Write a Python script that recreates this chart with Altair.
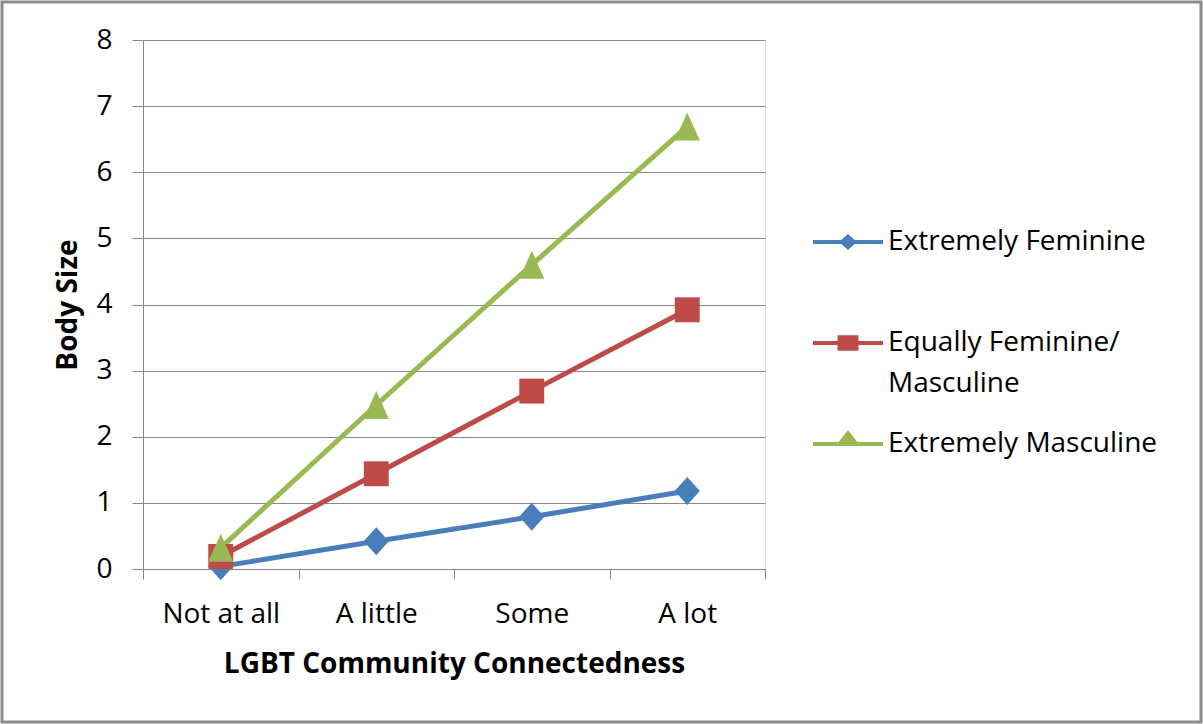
import json
import altair as alt
import pandas as pd

categories = ["Not at all", "A little", "Some", "A lot"]
series = ["Extremely Feminine", "Equally Feminine/Masculine", "Extremely Masculine"]
extremely_feminine = [0.04, 0.42, 0.79, 1.18]
equally_fem_masc = [0.19, 1.44, 2.69, 3.92]
extremely_masculine = [0.32, 2.48, 4.60, 6.69]
colors = ["#4A7EBB", "#BE4B48", "#98B954"]
y_ticks = [0, 1, 2, 3, 4, 5, 6, 7, 8]
x_ticks = [0, 0.5, 1, 1.5, 2, 2.5, 3, 3.5, 4]

rows = []
for s, vals in zip(series, [extremely_feminine, equally_fem_masc, extremely_masculine]):
    for c, v in zip(categories, vals):
        rows.append({"series": s, "category": c, "value": v})
df = pd.DataFrame(rows)

FONT = "Open Sans"
GRID = "#868686"

# marker shapes (unit box -1..1)
diamond = "M0,-1L0.9,0L0,1L-0.9,0Z"
square = "M-0.89,-0.89L0.89,-0.89L0.89,0.89L-0.89,0.89Z"
triangle = "M0,-1L0.9,1L-0.9,1Z"

# legend shapes: line + marker (the bare moves only widen the entry's layout box)
pad_moves = "M0,-1.65M0,1.65"
leg_diamond = ("M-1,-0.06L-0.192,-0.06L0,-0.23L0.192,-0.06L1,-0.06L1,0.06"
               "L0.192,0.06L0,0.23L-0.192,0.06L-1,0.06Z" + pad_moves)
leg_square = ("M-1,-0.06L-0.3,-0.06L-0.3,-0.22L0.3,-0.22L0.3,-0.06L1,-0.06L1,0.06"
              "L0.3,0.06L0.3,0.22L-0.3,0.22L-0.3,0.06L-1,0.06Z" + pad_moves)
leg_triangle = "M-1,-0.06L-0.266,-0.06L0,-0.4L0.266,-0.06L1,-0.06L1,0.06L-1,0.06Z" + pad_moves

cats_js = json.dumps(categories)

base = alt.Chart(df).transform_calculate(
    xpos=f"indexof({cats_js}, datum.category) + 0.5"
)

x_enc = alt.X(
    "xpos:Q",
    scale=alt.Scale(domain=[0, 4], nice=False, zero=False),
    axis=alt.Axis(
        values=x_ticks,
        labelExpr=f"datum.value % 1 == 0 ? '' : {cats_js}[floor(datum.value)]",
        tickOpacity={"condition": {"test": "datum.value % 1 === 0", "value": 1}, "value": 0},
        grid=False,
        domainColor=GRID,
        tickColor=GRID,
        tickSize=10,
        labelFont=FONT,
        labelFontSize=28,
        labelColor="black",
        labelPadding=21,
        labelBaseline="top",
        title="LGBT Community Connectedness",
        titleFont=FONT,
        titleFontSize=28,
        titleFontWeight="bold",
        titleColor="black",
        titlePadding=22,
    ),
)
y_enc = alt.Y(
    "value:Q",
    scale=alt.Scale(domain=[0, 8], nice=False),
    axis=alt.Axis(
        values=y_ticks,
        grid=True,
        gridColor=GRID,
        domainColor=GRID,
        tickColor=GRID,
        tickSize=11,
        labelFont=FONT,
        labelFontSize=28,
        labelColor="black",
        labelPadding=20,
        title="Body Size",
        titleFont=FONT,
        titleFontSize=28,
        titleFontWeight="bold",
        titleColor="black",
        titlePadding=13,
    ),
)

color_scale = alt.Scale(domain=series, range=colors)

lines = base.mark_line(strokeWidth=5).encode(
    x=x_enc, y=y_enc,
    color=alt.Color("series:N", scale=color_scale, legend=None),
    detail="series:N",
)
points = base.mark_point(filled=True, opacity=1, size=784, strokeWidth=0).encode(
    x=x_enc, y=y_enc,
    color=alt.Color("series:N", scale=color_scale, legend=None),
    shape=alt.Shape("series:N", scale=alt.Scale(domain=series, range=[diamond, square, triangle]), legend=None),
)

legend = alt.Legend(
    title=None,
    orient="none",
    legendX=670,
    legendY=167,
    symbolSize=4900,
    symbolStrokeWidth=0,
    symbolOpacity=1,
    labelFont=FONT,
    labelFontSize=28,
    labelColor="black",
    labelOffset=5,
    labelLimit=0,
    rowPadding=-15,
    padding=0,
    labelExpr="datum.label == 'Equally Feminine/Masculine' ? ['Equally Feminine/', 'Masculine'] : datum.label",
)
legend_layer = base.transform_filter("false").mark_point(filled=True, opacity=1).encode(
    x=x_enc, y=y_enc,
    color=alt.Color("series:N", scale=color_scale, legend=legend),
    shape=alt.Shape("series:N", scale=alt.Scale(domain=series, range=[leg_diamond, leg_square, leg_triangle]), legend=legend),
)

border = alt.Chart(pd.DataFrame({"a": [0]})).mark_rect(
    fill=None, stroke="#8c8c8c", strokeWidth=3
).encode(
    x=alt.value(-141), x2=alt.value(1058), y=alt.value(-38), y2=alt.value(682)
)

chart = alt.layer(lines, points, legend_layer, border).resolve_scale(
    color="independent", shape="independent"
).properties(
    width=622,
    height=529,
    autosize=alt.AutoSizeParams(type="none"),
    padding={"left": 143, "top": 40, "right": 438, "bottom": 155},
    background="white",
).configure_view(stroke=None).configure(
    style={"guide-label": {"lineHeight": 41}}
)

chart.save("out.html", embed_options={"renderer": "svg", "actions": False})
